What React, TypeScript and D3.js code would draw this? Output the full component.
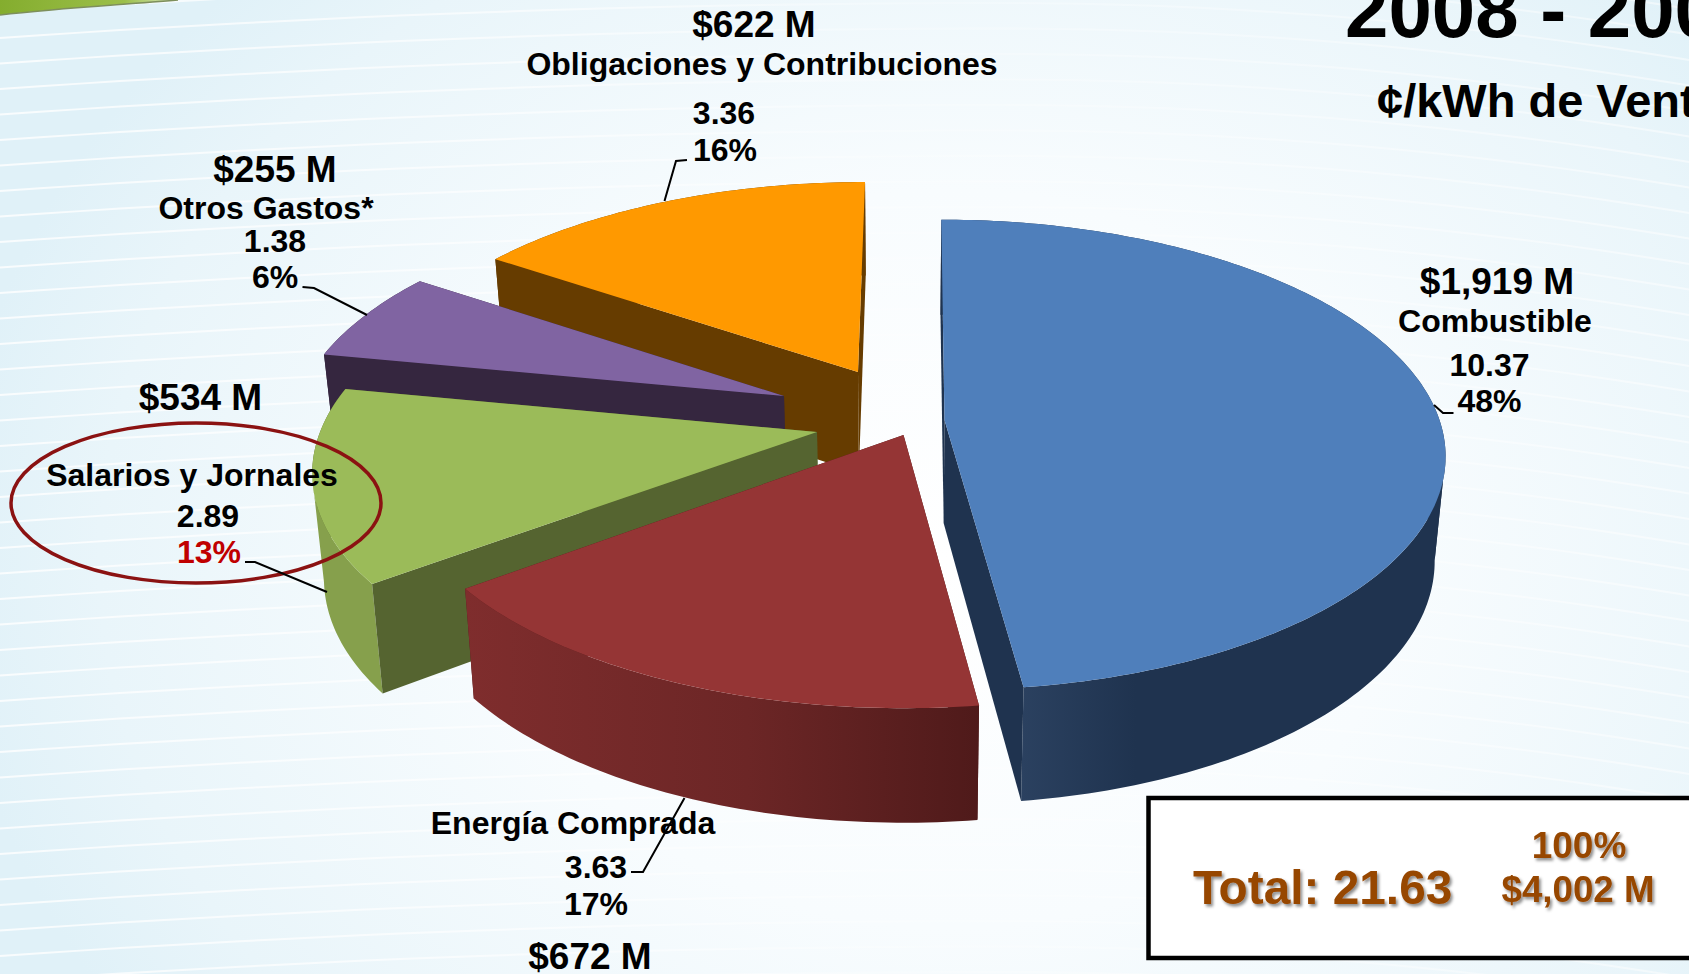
import React from 'react';
import * as d3 from 'd3';

const W = 1689;
const H = 974;

// ---- data ----
const categories = ['Combustible', 'Energía Comprada', 'Salarios y Jornales', 'Otros Gastos*', 'Obligaciones y Contribuciones'];
const centsPerKwh = [10.37, 3.63, 2.89, 1.38, 3.36];
const shareLabels = ['48%', '17%', '13%', '6%', '16%'];
const costLabels = ['$1,919 M', '$672 M', '$534 M', '$255 M', '$622 M'];

// ---- styles and layout ----
const topColors = ['#4f7fbb', '#953535', '#9bbb59', '#8064a2', '#ff9900'];
const wallColors = ['#1f334f', '#4f1a1a', '#556430', '#35263f', '#663c00'];
const arcStops: [number, string][][] = [
  [[0, '#2b4160'], [0.27, '#1f334f'], [1, '#1f334f']],
  [[0, '#7f2d2d'], [0.55, '#6c2626'], [1, '#4f1a1a']],
  [[0, '#86a04c'], [1, '#86a04c']],
  [[0, '#6b5488'], [1, '#6b5488']],
  [[0, '#c47800'], [1, '#c47800']],
];
const apexX = [944.5, 903.5, 817, 784, 858];
const apexY = [420, 435, 432, 396, 372];
const scaleX = [0.996, 1.006, 1, 0.975, 0.965];
const scaleY = [1, 1.012, 1, 0.965, 0.948];
const sliceShear = [0.016, 0, -0.06, -0.056, -0.037];
const drawOrder = [4, 3, 2, 0, 1];

const RX = 497;
const RY = 230;
const K = 0.148;
const VX = 900;
const F = 0.98;

type Pt = [number, number];

function project(i: number, a: number): Pt {
  const s = 1 / (1 + K * Math.cos(a));
  const dy = -RY * Math.cos(a) * s * scaleY[i];
  return [apexX[i] + RX * Math.sin(a) * s * scaleX[i] + sliceShear[i] * dy, apexY[i] + dy];
}
function lower(p: Pt): Pt {
  return [VX + (p[0] - VX) * F, p[1] + 103 + (p[1] - 420) * 0.04];
}
const line = d3.line<Pt>();

const pie = d3.pie<number>().sort(null).value((d) => d);
const arcs = pie(centsPerKwh);

type Face = { d: string; fill: string; key: string };
type Slice = { faces: Face[]; gradX: [number, number] };

function buildSlice(i: number): Slice {
  const arc = arcs[i];
  const apex: Pt = [apexX[i], apexY[i]];
  const steps = Math.max(2, Math.round(((arc.endAngle - arc.startAngle) * 180) / Math.PI));
  const angles = d3.range(steps + 1).map((k) => arc.startAngle + ((arc.endAngle - arc.startAngle) * k) / steps);
  const rim = angles.map((a) => project(i, a));
  const hidden: Face[] = [];
  const visible: Face[] = [];
  const addWall = (p: Pt, q: Pt, key: string) => {
    const face = { d: line([p, q, lower(q), lower(p)]) + 'Z', fill: wallColors[i], key };
    (q[0] < p[0] ? visible : hidden).push(face);
  };
  addWall(apex, rim[0], 'w0');
  addWall(rim[rim.length - 1], apex, 'w1');
  // outer wall: the part that faces the viewer runs leftwards on screen
  const front = rim.filter((p, k) => (k < rim.length - 1 ? rim[k + 1][0] < p[0] : p[0] < rim[k - 1][0]));
  const back = rim.filter((p, k) => (k > 0 ? p[0] >= rim[k - 1][0] : rim[1][0] >= p[0]));
  const band = (pts: Pt[]) => line([...pts, ...pts.slice().reverse().map(lower)]) + 'Z';
  const faces: Face[] = [...hidden];
  if (back.length > 1) faces.push({ d: band(back), fill: wallColors[i], key: 'back' });
  if (front.length > 1) faces.push({ d: band(front), fill: `url(#arc${i})`, key: 'front' });
  faces.push(...visible);
  faces.push({ d: line([apex, ...rim]) + 'Z', fill: topColors[i], key: 't' });
  const xs = front.length ? front.flatMap((p) => [p[0], lower(p)[0]]) : [0, 1];
  return { faces, gradX: [d3.min(xs) as number, d3.max(xs) as number] };
}
const slices = centsPerKwh.map((_, i) => buildSlice(i));

// Background sweep lines (vertical start of each faint white line)
const streakRows = d3.range(-150, 1180, 25.5);
const streakPath = (y0: number) =>
  d3.line<number>().x((x) => x).y((x) => y0 + (x < 1000 ? 3.5e-5 : 1.2e-4) * (x - 1000) * (x - 1000))(
    d3.range(0, W + 40, 40),
  ) as string;

const FONT = '"Liberation Sans", Arial, sans-serif';

type Lbl = { t: string; x: number; y: number; s: number; c?: string };
const labels: Lbl[] = [
  { t: costLabels[4], x: 754, y: 37, s: 37 },
  { t: categories[4], x: 762, y: 75, s: 32 },
  { t: centsPerKwh[4].toFixed(2), x: 724, y: 124, s: 32 },
  { t: shareLabels[4], x: 725, y: 161, s: 32 },
  { t: costLabels[3], x: 275, y: 182, s: 37 },
  { t: categories[3], x: 266, y: 219, s: 32 },
  { t: centsPerKwh[3].toFixed(2), x: 275, y: 252, s: 32 },
  { t: shareLabels[3], x: 275, y: 288, s: 32 },
  { t: costLabels[2], x: 200.5, y: 410, s: 37 },
  { t: categories[2], x: 192, y: 486, s: 32 },
  { t: centsPerKwh[2].toFixed(2), x: 208, y: 527, s: 32 },
  { t: shareLabels[2], x: 209, y: 563, s: 32, c: '#c00000' },
  { t: categories[1], x: 573, y: 834, s: 32 },
  { t: centsPerKwh[1].toFixed(2), x: 596, y: 878, s: 32 },
  { t: shareLabels[1], x: 596, y: 915, s: 32 },
  { t: costLabels[1], x: 590, y: 969, s: 37 },
  { t: costLabels[0], x: 1497, y: 294, s: 37 },
  { t: categories[0], x: 1495, y: 332, s: 32 },
  { t: centsPerKwh[0].toFixed(2), x: 1489.5, y: 376, s: 32 },
  { t: shareLabels[0], x: 1489.5, y: 412, s: 32 },
];

const leaders: Pt[][] = [
  [[687, 160], [676, 161], [664.5, 201]],
  [[302.5, 287], [314, 288], [367, 315]],
  [[245, 562], [255, 562], [327, 592]],
  [[631, 872], [643, 872], [684.5, 798]],
  [[1453.5, 413], [1443, 413], [1434, 405]],
];

export default function App() {
  return (
    <svg width={W} height={H} viewBox={`0 0 ${W} ${H}`} style={{ position: 'absolute', left: 0, top: 0, display: 'block' }} fontFamily={FONT} fontWeight="bold">
      <defs>
        <radialGradient id="bg" gradientUnits="userSpaceOnUse" cx={950} cy={560} r={1000} gradientTransform="translate(0 100) scale(1 0.82)">
          <stop offset="0" stopColor="#ffffff" />
          <stop offset="0.45" stopColor="#f8fcfe" />
          <stop offset="0.85" stopColor="#e9f5fa" />
          <stop offset="1" stopColor="#e0f1f8" />
        </radialGradient>
        <linearGradient id="streak" gradientUnits="userSpaceOnUse" x1={0} x2={W} y1={0} y2={0}>
          <stop offset="0" stopColor="#fff" stopOpacity={0.8} />
          <stop offset="0.3" stopColor="#fff" stopOpacity={0.6} />
          <stop offset="0.55" stopColor="#fff" stopOpacity={0.2} />
          <stop offset="0.8" stopColor="#fff" stopOpacity={0.35} />
          <stop offset="1" stopColor="#fff" stopOpacity={0.5} />
        </linearGradient>
        <linearGradient id="swoosh" x1="0" x2="1" y1="0" y2="0">
          <stop offset="0" stopColor="#84ad2e" />
          <stop offset="0.7" stopColor="#9cbf4a" />
          <stop offset="1" stopColor="#dbe9c2" />
        </linearGradient>
        {slices.map((s, i) => (
          <linearGradient key={i} id={`arc${i}`} gradientUnits="userSpaceOnUse" x1={s.gradX[0]} x2={s.gradX[1]} y1={0} y2={0}>
            {arcStops[i].map(([o, c]) => (
              <stop key={o} offset={o} stopColor={c} />
            ))}
          </linearGradient>
        ))}
        <filter id="shadow" x="-10%" y="-20%" width="125%" height="150%">
          <feDropShadow dx="2" dy="2.5" stdDeviation="1.6" floodColor="#000" floodOpacity="0.45" />
        </filter>
      </defs>

      <rect width={W} height={H} fill="url(#bg)" />
      <g fill="none" stroke="url(#streak)" strokeWidth={2}>
        {streakRows.map((y) => (
          <path key={y} d={streakPath(y)} />
        ))}
      </g>
      <path d="M0 0 L178 0 C120 5 60 8 0 15 Z" fill="url(#swoosh)" />
      <path d="M0 15 C60 8 120 5 178 0" fill="none" stroke="#7d8f5c" strokeWidth={1.5} />

      {drawOrder.map((i) => (
        <g key={i}>
          {slices[i].faces.map((f) => (
            <path key={f.key} d={f.d} fill={f.fill} />
          ))}
        </g>
      ))}

      <ellipse cx={196} cy={503} rx={185} ry={80} fill="none" stroke="#8b1212" strokeWidth={3.5} />

      <g fill="none" stroke="#000" strokeWidth={2}>
        {leaders.map((l, k) => (
          <path key={k} d={line(l) as string} />
        ))}
      </g>

      <g textAnchor="middle" fill="#000">
        {labels.map((l) => (
          <text key={l.t + l.x} x={l.x} y={l.y} fontSize={l.s} fill={l.c ?? '#000'}>
            {l.t}
          </text>
        ))}
      </g>

      <text x={1345} y={37} fontSize={78} fill="#000">2008 - 2009</text>
      <text x={1377} y={117} fontSize={47} fill="#000">¢/kWh de Venta</text>

      <rect x={1148.5} y={798} width={700} height={160} fill="#fff" stroke="#000" strokeWidth={4.5} />
      <g fill="#974706" textAnchor="middle" filter="url(#shadow)">
        <text x={1322.6} y={904} fontSize={47.8}>Total: {d3.sum(centsPerKwh).toFixed(2)}</text>
        <text x={1579} y={858} fontSize={37}>100%</text>
        <text x={1578} y={902} fontSize={36.7}>$4,002 M</text>
      </g>
    </svg>
  );
}
